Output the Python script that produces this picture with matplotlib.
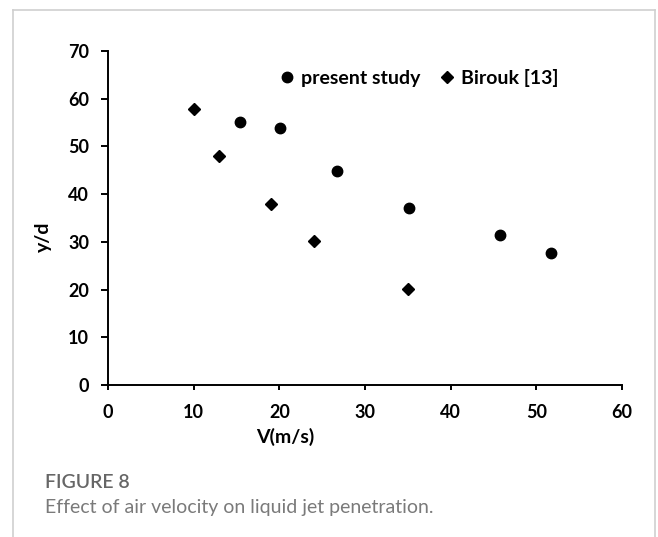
import matplotlib
matplotlib.use("Agg")
import matplotlib.pyplot as plt
from matplotlib.lines import Line2D

# data
present_v = [15.4, 20.1, 26.7, 35.1, 45.8, 51.7]
present_yd = [55.2, 53.9, 44.8, 37.1, 31.5, 27.7]
birouk_v = [10, 13, 19, 24, 35]
birouk_yd = [57.9, 47.9, 37.9, 30.2, 20.1]

x_ticks = [0, 10, 20, 30, 40, 50, 60]
y_ticks = [0, 10, 20, 30, 40, 50, 60, 70]

plt.rcParams['font.family'] = ['Lato', 'DejaVu Sans']

fig = plt.figure(figsize=(6.58, 5.37), dpi=100)
ax = fig.add_axes([0.1641, 0.2831, 0.7812, 0.6219])

ax.plot(present_v, present_yd, linestyle='none', marker='o', markersize=7.5,
        color='black', label='present study')
ax.plot(birouk_v, birouk_yd, linestyle='none', marker='D', markersize=6.5,
        color='black', label='Birouk [13]')

ax.set_xlim(0, 60)
ax.set_ylim(0, 70)
ax.set_xticks(x_ticks)
ax.set_yticks(y_ticks)
for s in ['top', 'right']:
    ax.spines[s].set_visible(False)
for s in ['left', 'bottom']:
    ax.spines[s].set_linewidth(1.4)
ax.tick_params(axis='x', direction='out', width=1.4, length=3.5,
               labelsize=13, pad=10.5)
ax.tick_params(axis='y', direction='out', width=1.4, length=5,
               labelsize=13, pad=8.5)
for lab in ax.get_xticklabels() + ax.get_yticklabels():
    lab.set_fontweight('bold')

ax.set_xlabel('V(m/s)', fontsize=14, fontweight='bold', va='center')
ax.xaxis.set_label_coords(0.344, -0.156)
ax.set_ylabel('y/d', fontsize=14, fontweight='bold', va='center')
ax.yaxis.set_label_coords(-0.126, 0.443)

leg = ax.legend(loc='center', bbox_to_anchor=(0.601, 0.919), ncol=2,
                frameon=False, handletextpad=0.1, columnspacing=0.8,
                handlelength=1.2, prop={'weight': 'bold', 'size': 14})

# caption
fig.text(45 / 658, 1 - 483 / 537, 'FIGURE 8', fontsize=14, color='#666666',
         fontweight='semibold', ha='left', va='center')
fig.text(45 / 658, 1 - 507 / 537, 'Effect of air velocity on liquid jet penetration.',
         fontsize=14, color='#7a7a7a', ha='left', va='center')

# light frame around the figure panel
fc = '#cfcfcf'
fig.add_artist(Line2D([13 / 658, 13 / 658], [0, 1 - 10 / 537], color=fc, lw=1.2,
                      transform=fig.transFigure))
fig.add_artist(Line2D([13 / 658, 655 / 658], [1 - 10 / 537, 1 - 10 / 537], color=fc,
                      lw=1.2, transform=fig.transFigure))
fig.add_artist(Line2D([655 / 658, 655 / 658], [0, 1 - 10 / 537], color=fc, lw=1.2,
                      transform=fig.transFigure))

fig.savefig('out.png', dpi=100)
